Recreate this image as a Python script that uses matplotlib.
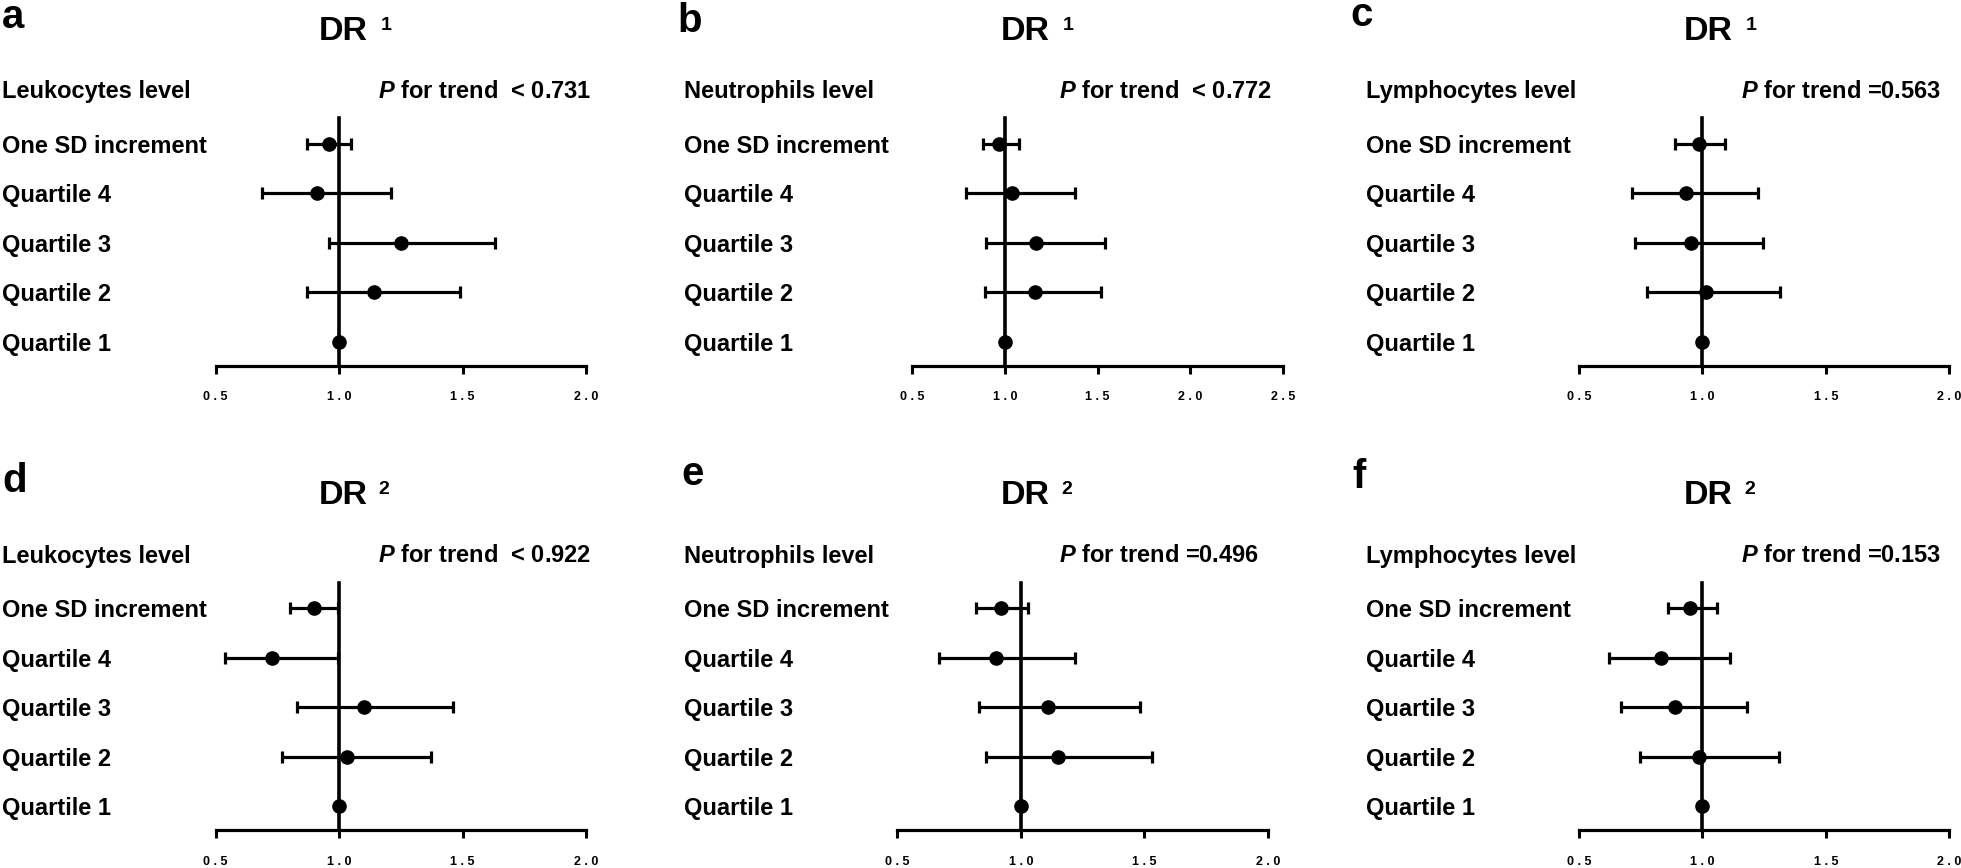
import numpy as np
import matplotlib
matplotlib.use("Agg")
import matplotlib.pyplot as plt
import matplotlib.transforms as mtransforms

plt.rcParams['font.family'] = ['Liberation Sans', 'DejaVu Sans']
plt.rcParams['font.weight'] = 'bold'
plt.rcParams['mathtext.fontset'] = 'custom'
plt.rcParams['mathtext.it'] = 'Liberation Sans:italic:bold'
plt.rcParams['mathtext.rm'] = 'Liberation Sans:bold'
plt.rcParams['mathtext.bf'] = 'Liberation Sans:bold'

# ---------------- data ----------------
row_labels = ["One SD increment", "Quartile 4", "Quartile 3", "Quartile 2", "Quartile 1"]
panel_letters = ["a", "b", "c", "d", "e", "f"]
panel_titles = ["1", "1", "1", "2", "2", "2"]
panel_headers = ["Leukocytes level", "Neutrophils level", "Lymphocytes level",
                 "Leukocytes level", "Neutrophils level", "Lymphocytes level"]
p_texts = ["< 0.731", "< 0.772", "=0.563", "< 0.922", "=0.496", "=0.153"]

est_a = [0.96, 0.91, 1.25, 1.14, 1.0]
lo_a = [0.87, 0.69, 0.96, 0.87, np.nan]
hi_a = [1.05, 1.21, 1.63, 1.49, np.nan]

est_b = [0.97, 1.04, 1.17, 1.16, 1.0]
lo_b = [0.88, 0.79, 0.90, 0.89, np.nan]
hi_b = [1.075, 1.38, 1.54, 1.52, np.nan]

est_c = [0.985, 0.935, 0.955, 1.015, 1.0]
lo_c = [0.89, 0.715, 0.725, 0.775, np.nan]
hi_c = [1.09, 1.225, 1.245, 1.315, np.nan]

est_d = [0.90, 0.73, 1.10, 1.03, 1.0]
lo_d = [0.80, 0.54, 0.83, 0.77, np.nan]
hi_d = [0.995, 0.995, 1.46, 1.37, np.nan]

est_e = [0.92, 0.90, 1.11, 1.15, 1.0]
lo_e = [0.82, 0.67, 0.83, 0.86, np.nan]
hi_e = [1.03, 1.22, 1.48, 1.53, np.nan]

est_f = [0.95, 0.83, 0.89, 0.985, 1.0]
lo_f = [0.86, 0.62, 0.67, 0.745, np.nan]
hi_f = [1.06, 1.11, 1.18, 1.31, np.nan]

ticks_short = [0.5, 1.0, 1.5, 2.0]
ticks_long = [0.5, 1.0, 1.5, 2.0, 2.5]
tick_labels_short = ["0 . 5", "1 . 0", "1 . 5", "2 . 0"]
tick_labels_long = ["0 . 5", "1 . 0", "1 . 5", "2 . 0", "2 . 5"]

ests = [est_a, est_b, est_c, est_d, est_e, est_f]
los = [lo_a, lo_b, lo_c, lo_d, lo_e, lo_f]
his = [hi_a, hi_b, hi_c, hi_d, hi_e, hi_f]
tick_sets = [(ticks_short, tick_labels_short), (ticks_long, tick_labels_long),
             (ticks_short, tick_labels_short), (ticks_short, tick_labels_short),
             (ticks_short, tick_labels_short), (ticks_short, tick_labels_short)]

# ---------------- layout (pixels) ----------------
W, H = 1961, 868
fig = plt.figure(figsize=(W / 100, H / 100), dpi=100)

def fx(x):
    return x / W

def fy(y):
    return 1 - y / H

ax_x = [(215.5, 586.3), (912.2, 1283.2), (1579.1, 1949.3),
        (215.5, 586.3), (897.4, 1268.0), (1579.1, 1949.3)]
label_x = [2.1, 684.0, 1366.2, 2.1, 684.0, 1366.2]
p_x = [377.5, 1059.0, 1741.4, 377.5, 1059.0, 1741.4]
dr_x = [319.0, 1001.0, 1683.6, 319.0, 1001.0, 1683.6]
sup_x = [380.5, 1063.0, 1746.0, 378.5, 1061.0, 1744.6]
letter_x = [2.0, 677.0, 1350.6, 2.0, 681.0, 1352.7]
letter_base = [28.5, 32.0, 26.5, 491.5, 485.0, 488.0]

row_top = [118.3, 582.7]
row_axis = [365.6, 830.0]
header_y = [89.0, 553.5]
dr_base = [40.5, 504.0]
sup_base = [29.5, 493.5]

ypos = np.array([4, 3, 2, 1, 0])
YLO, YHI = -0.48, 4.52

for i in range(6):
    r = i // 3
    t_vals, t_labs = tick_sets[i]
    x0, x1 = ax_x[i]
    ax = fig.add_axes([fx(x0), fy(row_axis[r]), (x1 - x0) / W,
                       (row_axis[r] - row_top[r]) / H])
    ax.set_xlim(t_vals[0], t_vals[-1])
    ax.set_ylim(YLO, YHI)
    for s in ["top", "right", "left"]:
        ax.spines[s].set_visible(False)
    ax.spines["bottom"].set_linewidth(2.3)
    ax.spines["bottom"].set_capstyle("projecting")
    ax.set_yticks([])
    ax.set_xticks(t_vals)
    ax.set_xticklabels(t_labs, fontsize=9, fontweight="bold")
    ax.tick_params(axis="x", direction="out", length=6, width=2.2, pad=12.5)
    ax.patch.set_alpha(0)

    ax.axvline(1.0, ymin=0, ymax=1, color="black", lw=2.6, clip_on=False, zorder=2)

    est = np.array(ests[i], dtype=float)
    lo = np.array(los[i], dtype=float)
    hi = np.array(his[i], dtype=float)
    m = ~np.isnan(lo)
    ax.errorbar(est[m], ypos[m], xerr=[est[m] - lo[m], hi[m] - est[m]], fmt="none",
                ecolor="black", elinewidth=2.3, capsize=4.5, capthick=2.3, zorder=3,
                clip_on=False)
    ax.plot(est, ypos, "o", color="black", ms=9.5, zorder=4, clip_on=False)

    trans = mtransforms.blended_transform_factory(fig.transFigure, ax.transData)
    for lab, yv in zip(row_labels, ypos):
        fig.text(fx(label_x[i]), yv, lab, transform=trans, ha="left",
                 va="center_baseline", fontsize=17, fontweight="bold")

    fig.text(fx(label_x[i]), fy(header_y[r]), panel_headers[i], ha="left",
             va="center_baseline", fontsize=17, fontweight="bold")
    fig.text(fx(p_x[i]), fy(header_y[r]),
             r"$P$ for trend " + (" " if p_texts[i].startswith("<") else "") + p_texts[i],
             ha="left", va="center_baseline", fontsize=17, fontweight="bold")

    fig.text(fx(dr_x[i]), fy(dr_base[r]), "DR", ha="left", va="baseline",
             fontsize=24.5, fontweight="bold")
    fig.text(fx(sup_x[i]), fy(sup_base[r]), panel_titles[i], ha="left", va="baseline",
             fontsize=14, fontweight="bold")
    fig.text(fx(letter_x[i]), fy(letter_base[i]), panel_letters[i], ha="left",
             va="baseline", fontsize=29, fontweight="bold")

fig.savefig("out.png", dpi=100)
